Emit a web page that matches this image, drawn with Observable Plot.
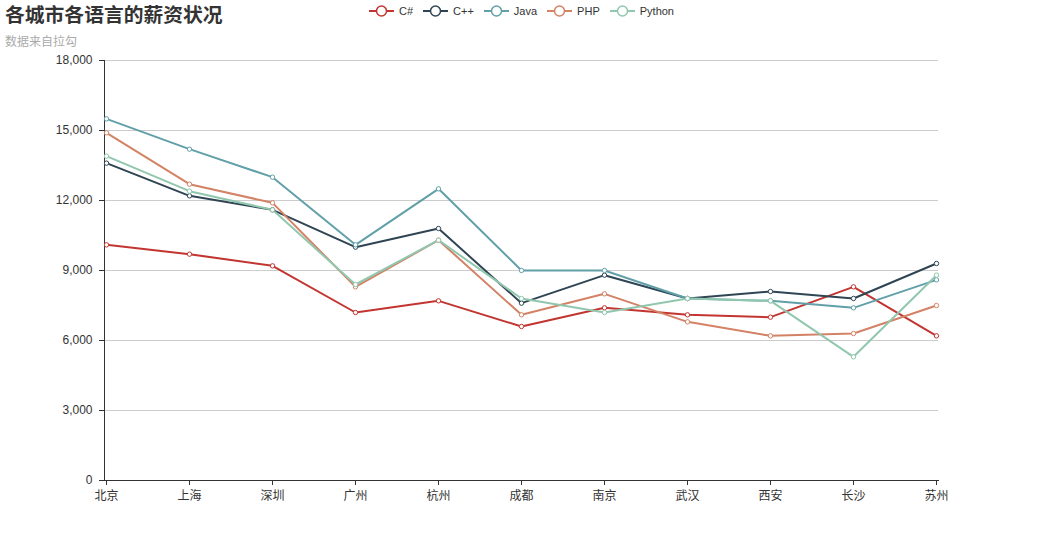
<!DOCTYPE html>
<html>
<head>
<meta charset="utf-8">
<script src="https://cdn.jsdelivr.net/npm/d3@7"></script>
<script src="https://cdn.jsdelivr.net/npm/@observablehq/plot@0.6"></script>
<style>
  body { margin: 0; background: #fff; font-family: "Liberation Sans", "Noto Sans CJK SC", sans-serif; }
  #wrap { position: relative; width: 1043px; height: 540px; }
  #title { position: absolute; left: 5px; top: 2px; font-size: 19.8px; font-weight: bold; color: #333; font-family: "Noto Sans CJK SC", sans-serif; line-height: 24px; }
  #subtitle { position: absolute; left: 5px; top: 33px; font-size: 12px; color: #aaa; font-family: "Noto Sans CJK SC", sans-serif; line-height: 16px; }
  #legend { position: absolute; top: 3px; left: 0; width: 1043px; display: flex; justify-content: center; font-size: 11px; color: #333; line-height: 16px; }
  .item { display: flex; align-items: center; margin: 0 5px; }
  .item svg { margin-right: 5px; }
  #chart { position: absolute; left: 0; top: 0; }
</style>
</head>
<body>
<div id="wrap">
  <div id="chart"></div>
  <div id="title">各城市各语言的薪资状况</div>
  <div id="subtitle">数据来自拉勾</div>
  <div id="legend"></div>
</div>
<script>
const cities = ["北京", "上海", "深圳", "广州", "杭州", "成都", "南京", "武汉", "西安", "长沙", "苏州"];
const languages = ["C#", "C++", "Java", "PHP", "Python"];
const colors = ["#c23531", "#2f4554", "#61a0a8", "#d48265", "#91c7ae"];
const csharp = [10100, 9700, 9200, 7200, 7700, 6600, 7400, 7100, 7000, 8300, 6200];
const cpp    = [13600, 12200, 11600, 10000, 10800, 7600, 8800, 7800, 8100, 7800, 9300];
const java   = [15500, 14200, 13000, 10100, 12500, 9000, 9000, 7800, 7700, 7400, 8600];
const php    = [14900, 12700, 11900, 8300, 10300, 7100, 8000, 6800, 6200, 6300, 7500];
const python = [13900, 12400, 11600, 8400, 10300, 7800, 7200, 7800, 7700, 5300, 8800];
const yTicks = [0, 3000, 6000, 9000, 12000, 15000, 18000];

const series = [csharp, cpp, java, php, python];
const data = series.flatMap((vals, i) => vals.map((v, j) => ({lang: languages[i], city: cities[j], value: v})));

const chart = Plot.plot({
  width: 1043,
  height: 540,
  marginTop: 60,
  marginBottom: 60,
  marginLeft: 104,
  marginRight: 105,
  style: {fontFamily: "'Liberation Sans', 'Noto Sans CJK SC', sans-serif", fontSize: "12px", color: "#333", background: "transparent", overflow: "visible"},
  x: {type: "point", domain: cities, padding: 0, label: null},
  y: {domain: [0, 18000], label: null},
  color: {domain: languages, range: colors},
  marks: [
    Plot.gridY(yTicks.filter(d => d > 0), {stroke: "#ccc", strokeOpacity: 1}),
    Plot.axisY(yTicks, {tickSize: 5, tickPadding: 7, tickFormat: d3.format(","), label: null, stroke: "#333", fill: "#333"}),
    Plot.axisX({tickSize: 5, tickPadding: 6, label: null, stroke: "#333", fill: "#333"}),
    Plot.frame({anchor: "left", stroke: "#333"}),
    Plot.frame({anchor: "bottom", stroke: "#333"}),
    Plot.line(data, {x: "city", y: "value", z: "lang", stroke: "lang", strokeWidth: 2}),
    Plot.dot(data, {x: "city", y: "value", stroke: "lang", fill: "white", r: 2.2, strokeWidth: 1, strokeOpacity: 1})
  ]
});
document.getElementById("chart").appendChild(chart);

const legend = document.getElementById("legend");
languages.forEach((l, i) => {
  const item = document.createElement("div");
  item.className = "item";
  item.innerHTML = `<svg width="25" height="14"><line x1="0" x2="25" y1="7" y2="7" stroke="${colors[i]}" stroke-width="2"/><circle cx="12.5" cy="7" r="5" fill="#fff" stroke="${colors[i]}" stroke-width="1.5"/></svg><span>${l}</span>`;
  legend.appendChild(item);
});
</script>
</body>
</html>
